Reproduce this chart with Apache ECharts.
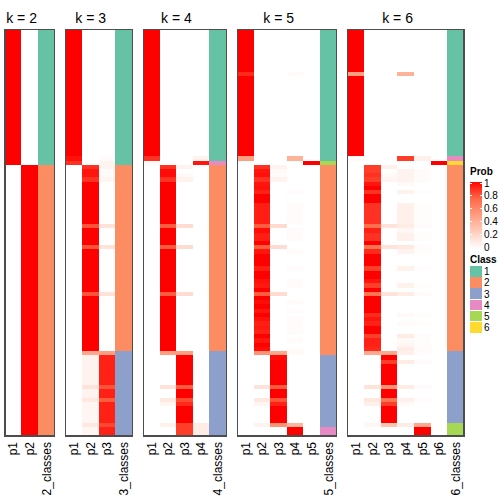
<!DOCTYPE html>
<html><head><meta charset="utf-8">
<script src="https://cdn.jsdelivr.net/npm/echarts@6/dist/echarts.min.js"></script>
<style>html,body{margin:0;padding:0;background:#fff}#c{width:504px;height:504px}
#c svg path{shape-rendering:crispEdges}</style>
</head><body><div id="c"></div>
<script>
(function () {
// ---------- data (96 samples, same row order in every panel) ----------
const titles = ['k = 2', 'k = 3', 'k = 4', 'k = 5', 'k = 6'];
const classColors = ['#66C2A5', '#FC8D62', '#8DA0CB', '#E78AC3', '#A6D854', '#FFD92F'];
const probTicks = ['1', '0.8', '0.6', '0.4', '0.2', '0'];
const classLabels = ['1', '2', '3', '4', '5', '6'];

const k2_p1 = [1,1,1,1,1,1,1,1,1,1,1,1,1,1,1,1, 1,1,1,1,1,1,1,1,1,1,1,1,1,1,1,1,
  0,0,0,0,0,0,0,0,0,0,0,0,0,0,0,0, 0,0,0,0,0,0,0,0,0,0,0,0,0,0,0,0,
  0,0,0,0,0,0,0,0,0,0,0,0,0,0,0,0, 0,0,0,0,0,0,0,0,0,0,0,0,0,0,0,0];
const k2_p2 = [0,0,0,0,0,0,0,0,0,0,0,0,0,0,0,0, 0,0,0,0,0,0,0,0,0,0,0,0,0,0,0,0,
  1,1,1,1,1,1,1,1,1,1,1,1,1,1,1,1, 1,1,1,1,1,1,1,1,1,1,1,1,1,1,1,1,
  1,1,1,1,1,1,1,1,1,1,1,1,1,1,1,1, 1,1,1,1,1,1,1,1,1,1,1,1,1,1,1,1];
const k2_cls = [1,1,1,1,1,1,1,1,1,1,1,1,1,1,1,1, 1,1,1,1,1,1,1,1,1,1,1,1,1,1,1,1,
  2,2,2,2,2,2,2,2,2,2,2,2,2,2,2,2, 2,2,2,2,2,2,2,2,2,2,2,2,2,2,2,2,
  2,2,2,2,2,2,2,2,2,2,2,2,2,2,2,2, 2,2,2,2,2,2,2,2,2,2,2,2,2,2,2,2];

const k3_p1 = [1,1,1,1,1,1,1,1,1,1,1,1,1,1,1,1, 1,1,1,1,1,1,1,1,1,1,1,1,1,1,.96,.88,
  0,0,0,0,0,0,0,0,0,0,0,0,0,0,0,0, 0,0,0,0,0,0,0,0,0,0,0,0,0,0,0,0,
  0,0,0,0,0,0,0,0,0,0,0,0,0,0,0,0, 0,0,0,0,0,0,0,0,0,0,0,0,0,0,0,0];
const k3_p2 = [0,0,0,0,0,0,0,0,0,0,0,0,0,0,0,0, 0,0,0,0,0,0,0,0,0,0,0,0,0,0,0,0,
  .88,.95,.95,.88,1,1,1,1,1,1,1,1,1,1,.8,1, 1,1,1,.8,1,1,1,1,1,1,1,1,1,1,.8,1,
  1,1,1,1,1,1,1,1,1,1,1,1,.45,.06,.06,.06, .06,.06,.06,.06,.15,.06,.06,.12,.05,.05,.05,.05,.05,.12,.05,.05];
const k3_p3 = [0,0,0,0,0,0,0,0,0,0,0,0,0,0,0,0, 0,0,0,0,0,0,0,0,0,0,0,0,0,0,.02,.06,
  .06,.02,.02,.05,0,0,0,0,0,0,0,0,0,0,.15,0, 0,0,0,.15,0,0,0,0,0,0,0,0,0,0,.15,0,
  0,0,0,0,0,0,0,0,0,0,0,0,.5,.92,.92,.92, .92,.92,.92,.92,.8,.92,.92,.78,.92,.92,.92,.92,.92,.83,.92,.92];
const k3_cls = [1,1,1,1,1,1,1,1,1,1,1,1,1,1,1,1, 1,1,1,1,1,1,1,1,1,1,1,1,1,1,1,1,
  2,2,2,2,2,2,2,2,2,2,2,2,2,2,2,2, 2,2,2,2,2,2,2,2,2,2,2,2,2,2,2,2,
  2,2,2,2,2,2,2,2,2,2,2,2,3,3,3,3, 3,3,3,3,3,3,3,3,3,3,3,3,3,3,3,3];

const k4_p1 = [1,1,1,1,1,1,1,1,1,1,1,1,1,1,1,1, 1,1,1,1,1,1,1,1,1,1,1,1,1,1,.88,.03,
  0,0,0,0,0,0,0,0,0,0,0,0,0,0,0,0, 0,0,0,0,0,0,0,0,0,0,0,0,0,0,0,0,
  0,0,0,0,0,0,0,0,0,0,0,0,0,0,0,0, 0,0,0,0,0,0,0,0,0,0,0,0,0,0,0,0];
const k4_p2 = [0,0,0,0,0,0,0,0,0,0,0,0,0,0,0,0, 0,0,0,0,0,0,0,0,0,0,0,0,0,0,0,0,
  .88,.97,.97,.88,1,1,1,1,1,1,1,1,1,1,.78,1, 1,1,1,.78,1,1,1,1,1,1,1,1,1,1,.78,1,
  1,1,1,1,1,1,1,1,1,1,1,1,.5,0,0,0, 0,0,0,0,.15,0,0,.12,.05,0,0,0,0,.07,0,0];
const k4_p3 = [0,0,0,0,0,0,0,0,0,0,0,0,0,0,0,0, 0,0,0,0,0,0,0,0,0,0,0,0,0,0,0,0,
  .06,0,.03,.06,0,0,0,0,0,0,0,0,0,0,.18,0, 0,0,0,.18,0,0,0,0,0,0,0,0,0,0,.18,0,
  0,0,0,0,0,0,0,0,0,0,0,0,.5,1,1,1, 1,1,1,1,.78,1,1,.82,.9,1,1,1,1,.85,.85,.85];
const k4_p4 = [0,0,0,0,0,0,0,0,0,0,0,0,0,0,0,0, 0,0,0,0,0,0,0,0,0,0,0,0,0,0,.06,.95,
  0,0,0,0,0,0,0,0,0,0,0,0,0,0,0,0, 0,0,0,0,0,0,0,0,0,0,0,0,0,0,0,0,
  0,0,0,0,0,0,0,0,0,0,0,0,0,0,0,0, 0,0,0,0,0,0,0,0,0,0,0,0,0,.1,.1,.1];
const k4_cls = [1,1,1,1,1,1,1,1,1,1,1,1,1,1,1,1, 1,1,1,1,1,1,1,1,1,1,1,1,1,1,1,4,
  2,2,2,2,2,2,2,2,2,2,2,2,2,2,2,2, 2,2,2,2,2,2,2,2,2,2,2,2,2,2,2,2,
  2,2,2,2,2,2,2,2,2,2,2,2,3,3,3,3, 3,3,3,3,3,3,3,3,3,3,3,3,3,3,3,3];

const k5_p1 = [1,1,1,1,1,1,1,1,1,1,.9,1,1,1,1,1, 1,1,1,1,1,1,1,1,1,1,1,1,1,1,.5,0,
  0,0,0,0,0,0,0,0,0,0,0,0,0,0,0,0, 0,0,0,0,0,0,0,0,0,0,0,0,0,0,0,0,
  0,0,0,0,0,0,0,0,0,0,0,0,0,0,0,0, 0,0,0,0,0,0,0,0,0,0,0,0,0,0,0,0];
const k5_p2 = [0,0,0,0,0,0,0,0,0,0,0,0,0,0,0,0, 0,0,0,0,0,0,0,0,0,0,0,0,0,0,0,0,
  .88,.95,.96,.88,.95,.96,.92,1,1,.93,.93,.93,.93,.93,.78,.97, .93,.93,1,.78,.95,1,1,1,.93,1,1,.96,.94,1,.78,1,
  .97,1,.95,1,.96,.93,.94,.92,1,.95,1,.97,.55,0,0,0, 0,0,0,0,.15,0,0,.12,.05,0,0,0,0,.06,0,0];
const k5_p3 = [0,0,0,0,0,0,0,0,0,0,0,0,0,0,0,0, 0,0,0,0,0,0,0,0,0,0,0,0,0,0,0,0,
  .06,.03,.02,.06,0,0,0,0,0,0,0,0,0,0,.18,0, 0,0,0,.18,0,0,0,0,0,0,0,0,0,0,.18,0,
  0,0,0,0,0,0,0,0,0,0,0,0,.45,.97,1,1, 1,1,1,1,.78,1,1,.8,.92,1,1,1,1,.55,0,0];
const k5_p4 = [0,0,0,0,0,0,0,0,0,0,.02,0,0,0,0,0, 0,0,0,0,0,0,0,0,0,0,0,0,0,0,.4,0,
  0,0,0,0,0,0,.02,0,0,.02,.02,.02,.02,.02,0,.02, .02,.02,0,0,.02,0,0,0,.02,0,0,.02,.02,0,0,0,
  .02,0,.02,0,.02,.02,.02,.02,0,.02,0,.02,.03,0,0,0, 0,0,0,0,0,0,0,0,0,0,0,0,0,.38,1,1];
const k5_p5 = [0,0,0,0,0,0,0,0,0,0,0,0,0,0,0,0, 0,0,0,0,0,0,0,0,0,0,0,0,0,0,0,1,
  0,0,0,0,0,0,0,0,0,0,0,0,0,0,0,0, 0,0,0,0,0,0,0,0,0,0,0,0,0,0,0,0,
  0,0,0,0,0,0,0,0,0,0,0,0,0,0,0,0, 0,0,0,0,0,0,0,0,0,0,0,0,0,0,0,0];
const k5_cls = [1,1,1,1,1,1,1,1,1,1,1,1,1,1,1,1, 1,1,1,1,1,1,1,1,1,1,1,1,1,1,1,5,
  2,2,2,2,2,2,2,2,2,2,2,2,2,2,2,2, 2,2,2,2,2,2,2,2,2,2,2,2,2,2,2,2,
  2,2,2,2,2,2,2,2,2,2,2,2,2,3,3,3, 3,3,3,3,3,3,3,3,3,3,3,3,3,3,4,4];

const k6_p1 = [1,1,1,1,1,1,1,1,1,1,.5,1,1,1,1,1, 1,1,1,1,1,1,1,1,1,1,1,1,1,1,.03,0,
  0,0,0,0,0,0,0,0,0,0,0,0,0,0,0,0, 0,0,0,0,0,0,0,0,0,0,0,0,0,0,0,0,
  0,0,0,0,0,0,0,0,0,0,0,0,0,0,0,0, 0,0,0,0,0,0,0,0,0,0,0,0,0,0,0,0];
const k6_p2 = [0,0,0,0,0,0,0,0,0,0,0,0,0,0,0,0, 0,0,0,0,0,0,0,0,0,0,0,0,0,0,0,0,
  .85,.85,.88,.85,.95,1,.88,1,1,.88,.88,.88,.88,.88,.72,.92, .88,.88,1,.7,.9,1,1,1,.85,1,1,.95,.85,1,.7,1,
  1,1,1,.9,.95,.92,1,1,.85,.92,.92,.9,.45,0,0,0, 0,0,0,0,.15,0,0,.12,.08,0,0,0,0,.04,0,0];
const k6_p3 = [0,0,0,0,0,0,0,0,0,0,0,0,0,0,0,0, 0,0,0,0,0,0,0,0,0,0,0,0,0,0,0,0,
  .08,0,.03,.05,0,0,0,0,0,0,0,0,0,0,.15,0, 0,0,0,.15,0,0,0,0,0,0,0,0,0,0,.15,0,
  0,0,0,0,0,0,0,0,0,0,0,0,.45,1,.85,1, 1,1,1,1,.55,1,1,.7,.85,1,1,1,1,.3,0,0];
const k6_p4 = [0,0,0,0,0,0,0,0,0,0,.4,0,0,0,0,0, 0,0,0,0,0,0,0,0,0,0,0,0,0,0,.85,0,
  0,.06,.06,.06,.03,0,.07,0,0,.08,.08,.08,.08,.08,.1,.04, .08,.08,0,.12,.06,0,0,0,.07,0,0,0,.07,0,.1,0,
  0,0,0,.03,0,.02,0,0,.1,.03,.05,.1,.08,0,.1,0, 0,0,0,0,.1,0,0,.08,.03,0,0,0,0,.1,0,0];
const k6_p5 = [0,0,0,0,0,0,0,0,0,0,0,0,0,0,0,0, 0,0,0,0,0,0,0,0,0,0,0,0,0,0,.08,0,
  0,.02,.02,.02,0,0,.01,0,0,.01,.01,.01,.01,.01,.02,0, .01,.01,0,.02,.01,0,0,0,.01,0,0,0,.01,0,.02,0,
  0,0,0,.01,0,.01,0,0,.02,.01,.01,.02,.02,0,.02,0, 0,0,0,0,.02,0,0,.02,0,0,0,0,0,.45,1,1];
const k6_p6 = [0,0,0,0,0,0,0,0,0,0,0,0,0,0,0,0, 0,0,0,0,0,0,0,0,0,0,0,0,0,0,0,1,
  0,0,0,0,0,0,0,0,0,0,0,0,0,0,0,0, 0,0,0,0,0,0,0,0,0,0,0,0,0,0,0,0,
  0,0,0,0,0,0,0,0,0,0,0,0,0,0,0,0, 0,0,0,0,0,0,0,0,0,0,0,0,0,0,0,0];
const k6_cls = [1,1,1,1,1,1,1,1,1,1,1,1,1,1,1,1, 1,1,1,1,1,1,1,1,1,1,1,1,1,1,4,6,
  2,2,2,2,2,2,2,2,2,2,2,2,2,2,2,2, 2,2,2,2,2,2,2,2,2,2,2,2,2,2,2,2,
  2,2,2,2,2,2,2,2,2,2,2,2,3,3,3,3, 3,3,3,3,3,3,3,3,3,3,3,3,3,5,5,5];

const panels = [
  {k: 2, probs: [k2_p1, k2_p2], cls: k2_cls},
  {k: 3, probs: [k3_p1, k3_p2, k3_p3], cls: k3_cls},
  {k: 4, probs: [k4_p1, k4_p2, k4_p3, k4_p4], cls: k4_cls},
  {k: 5, probs: [k5_p1, k5_p2, k5_p3, k5_p4, k5_p5], cls: k5_cls},
  {k: 6, probs: [k6_p1, k6_p2, k6_p3, k6_p4, k6_p5, k6_p6], cls: k6_cls}
];

// ---------- layout ----------
const FONT = 'Liberation Sans, Arial, sans-serif';
const colW = 16.6, gap = 11, x0 = 5, panelTop = 29.5, panelH = 406.5;
const nRows = k2_cls.length;
const rowCats = Array.from({length: nRows}, (_, i) => String(i));

const grid = [], xAxis = [], yAxis = [], series = [], graphic = [];
const probSeries = [], classSeries = [];
let curLeft = x0;
panels.forEach((p, gi) => {
  const nc = p.k + 1;
  const w = nc * colW;
  grid.push({left: curLeft, top: panelTop, width: w, height: panelH, show: false});
  const names = p.probs.map((_, j) => 'p' + (j + 1)).concat([p.k + '_classes']);
  xAxis.push({type: 'category', gridIndex: gi, data: names, position: 'bottom',
    axisLine: {show: false}, axisTick: {show: false}, splitLine: {show: false},
    axisLabel: {interval: 0, rotate: 90, margin: 6, color: '#000', fontSize: 12, fontFamily: FONT}});
  yAxis.push({type: 'category', gridIndex: gi, data: rowCats, inverse: true, show: false});
  const pd = [];
  p.probs.forEach((col, j) => col.forEach((v, r) => pd.push([j, r, v])));
  probSeries.push(series.length);
  series.push({type: 'heatmap', xAxisIndex: gi, yAxisIndex: gi, data: pd, progressive: 0,
               itemStyle: {borderWidth: 0}, emphasis: {disabled: true}});
  const cd = p.cls.map((c, r) => [p.k, r, c]);
  classSeries.push(series.length);
  series.push({type: 'heatmap', xAxisIndex: gi, yAxisIndex: gi, data: cd, progressive: 0,
               itemStyle: {borderWidth: 0}, emphasis: {disabled: true}});
  graphic.push({type: 'rect', z: 100, shape: {x: curLeft, y: panelTop, width: w, height: panelH},
    style: {fill: null, stroke: '#4d4d4d', lineWidth: 1.2}});
  graphic.push({type: 'text', x: curLeft + p.k * colW / 2, y: 18,
    style: {text: titles[gi], font: '14px ' + FONT, fill: '#000', textAlign: 'center', textVerticalAlign: 'middle'}});
  curLeft += w + gap;
});

// ---------- legends ----------
const labX = 470;
graphic.push({type: 'text', x: labX, y: 171.5,
  style: {text: 'Prob', font: 'bold 10px ' + FONT, fill: '#000', textVerticalAlign: 'middle'}});
const gTop = 183, gStep = 12.9;
graphic.push({type: 'rect', shape: {x: labX, y: gTop - 1.5, width: 12, height: gStep * 5 + 3},
  style: {fill: new echarts.graphic.LinearGradient(0, 0, 0, 1, [
    {offset: 0, color: '#FF0000'}, {offset: 0.25, color: '#FF6746'},
    {offset: 0.5, color: '#FF9E81'}, {offset: 0.75, color: '#FFCFBF'}, {offset: 1, color: '#FFFFFF'}])}});
probTicks.forEach((t, i) => {
  const y = gTop + i * gStep;
  graphic.push({type: 'line', shape: {x1: labX, y1: y, x2: labX + 2, y2: y}, style: {stroke: '#fff', lineWidth: 1}});
  graphic.push({type: 'line', shape: {x1: labX + 10, y1: y, x2: labX + 12, y2: y}, style: {stroke: '#fff', lineWidth: 1}});
  graphic.push({type: 'text', x: labX + 14, y: y,
    style: {text: t, font: '10px ' + FONT, fill: '#000', textVerticalAlign: 'middle'}});
});
graphic.push({type: 'text', x: labX, y: 259.5,
  style: {text: 'Class', font: 'bold 10px ' + FONT, fill: '#000', textVerticalAlign: 'middle'}});
const sTop = 266, sStep = 11.2;
classLabels.forEach((t, i) => {
  graphic.push({type: 'rect', shape: {x: labX, y: sTop + i * sStep, width: 12, height: sStep - 0.6},
    style: {fill: classColors[i]}});
  graphic.push({type: 'text', x: labX + 14, y: sTop + i * sStep + sStep / 2,
    style: {text: t, font: '10px ' + FONT, fill: '#000', textVerticalAlign: 'middle'}});
});

const option = {
  animation: false,
  backgroundColor: '#fff',
  grid: grid, xAxis: xAxis, yAxis: yAxis, series: series, graphic: graphic,
  visualMap: [
    {type: 'continuous', show: false, min: 0, max: 1, seriesIndex: probSeries, dimension: 2,
     inRange: {color: ['#FFFFFF', '#FFCFBF', '#FF9E81', '#FF6746', '#FF0000']}},
    {type: 'piecewise', show: false, seriesIndex: classSeries, dimension: 2,
     pieces: classColors.map((c, i) => ({value: i + 1, color: c}))}
  ]
};
const chart = echarts.init(document.getElementById('c'), null, {renderer: 'svg'});
chart.setOption(option);
})();
</script></body></html>
